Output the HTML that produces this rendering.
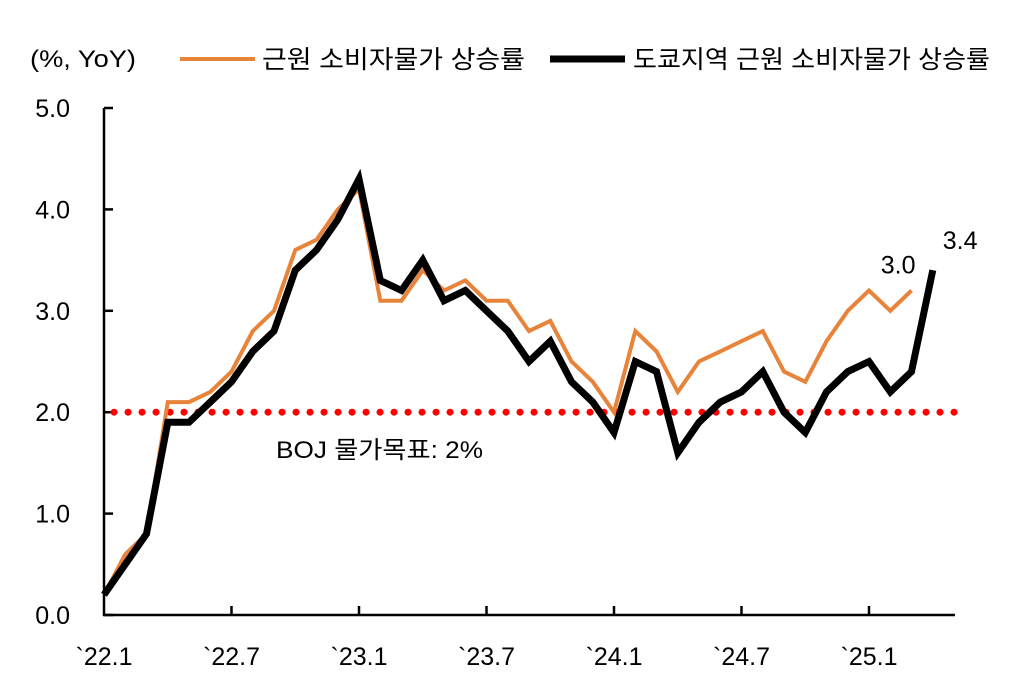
<!DOCTYPE html>
<html><head><meta charset="utf-8"><style>
body{margin:0;background:#fff;}
svg text{font-family:"Liberation Sans","Noto Sans CJK KR",sans-serif;fill:#000;}
</style></head><body>
<svg width="1016" height="691" viewBox="0 0 1016 691" xmlns="http://www.w3.org/2000/svg">
<g id="legend">
<text x="30" y="67" font-size="24" textLength="106" lengthAdjust="spacingAndGlyphs">(%, YoY)</text>
<line x1="180" y1="59" x2="255" y2="59" stroke="#E8833A" stroke-width="4"/>
<text x="262" y="68" font-size="25" textLength="263" lengthAdjust="spacingAndGlyphs">근원 소비자물가 상승률</text>
<line x1="550" y1="59" x2="625" y2="59" stroke="#000" stroke-width="7"/>
<text x="633" y="68" font-size="25" textLength="357" lengthAdjust="spacingAndGlyphs">도쿄지역 근원 소비자물가 상승률</text>
</g>
<g id="axes"></g>
<g id="plot"></g>
</svg>
<script>
const yTicks=[0,1,2,3,4,5];
const yTickLabels=["0.0","1.0","2.0","3.0","4.0","5.0"];
const xTickIdx=[0,6,12,18,24,30,36];
const xTickLabels=["`22.1","`22.7","`23.1","`23.7","`24.1","`24.7","`25.1"];
const national=[0.2,0.6,0.8,2.1,2.1,2.2,2.4,2.8,3.0,3.6,3.7,4.0,4.2,3.1,3.1,3.4,3.2,3.3,3.1,3.1,2.8,2.9,2.5,2.3,2.0,2.8,2.6,2.2,2.5,2.6,2.7,2.8,2.4,2.3,2.7,3.0,3.2,3.0,3.2];
const tokyo=[0.2,0.5,0.8,1.9,1.9,2.1,2.3,2.6,2.8,3.4,3.6,3.9,4.3,3.3,3.2,3.5,3.1,3.2,3.0,2.8,2.5,2.7,2.3,2.1,1.8,2.5,2.4,1.6,1.9,2.1,2.2,2.4,2.0,1.8,2.2,2.4,2.5,2.2,2.4,3.4];
const target=2.0;
const nationalLastLabel="3.0", tokyoLastLabel="3.4";

const NS="http://www.w3.org/2000/svg";
const X0=104,XSTEP=21.25,Y0=615,YS=101.4;
const xs=i=>X0+i*XSTEP, ys=v=>Y0-v*YS;
function mk(tag,attrs,parent){const e=document.createElementNS(NS,tag);for(const k in attrs)e.setAttribute(k,attrs[k]);parent.appendChild(e);return e;}
const axes=document.getElementById('axes'),plot=document.getElementById('plot');
const ya=mk('line',{x1:X0,y1:ys(5),x2:X0,y2:Y0+1,stroke:'#000','stroke-width':2.5},axes);


const xa=mk('line',{x1:X0-1,y1:Y0,x2:955,y2:Y0,stroke:'#000','stroke-width':2.5},axes);


yTicks.forEach((v,i)=>{
 const t=mk('line',{x1:X0,y1:ys(v),x2:X0+9,y2:ys(v),stroke:'#000','stroke-width':2.5},axes);
 
 
 const l=mk('text',{x:70,y:ys(v)+9,'font-size':25,'text-anchor':'end'},axes);
 
 
 l.textContent=yTickLabels[i];
});
xTickIdx.forEach((m,i)=>{
 if(m>0){const t=mk('line',{x1:xs(m),y1:Y0,x2:xs(m),y2:Y0-9,stroke:'#000','stroke-width':2.5},axes);
 
 }
 const l=mk('text',{x:xs(m),y:665,'font-size':25,'text-anchor':'middle'},axes);
 
 
 l.textContent=xTickLabels[i];
});
const tl=mk('line',{x1:X0+10,y1:ys(target),x2:958,y2:ys(target),stroke:'#FF0000','stroke-width':7,'stroke-linecap':'round','stroke-dasharray':'0.1 13.9'},plot);


const tt=mk('text',{x:276,y:458,'font-size':24,textLength:207,lengthAdjust:'spacingAndGlyphs'},plot);


tt.textContent='BOJ 물가목표: 2%';
const pts=a=>a.map((v,i)=>xs(i).toFixed(1)+','+ys(v).toFixed(1)).join(' ');
const pn=mk('polyline',{points:pts(national),fill:'none',stroke:'#E8833A','stroke-width':4,'stroke-linejoin':'miter'},plot);


const pt=mk('polyline',{points:pts(tokyo),fill:'none',stroke:'#000','stroke-width':7,'stroke-linejoin':'miter'},plot);


const ln=mk('text',{x:xs(national.length-1)+4,y:ys(national[national.length-1])-17,'font-size':25,'text-anchor':'end'},plot);


ln.textContent=nationalLastLabel;
const lt=mk('text',{x:xs(tokyo.length-1)+10,y:ys(tokyo[tokyo.length-1])-21,'font-size':25},plot);


lt.textContent=tokyoLastLabel;
</script>
</body></html>
